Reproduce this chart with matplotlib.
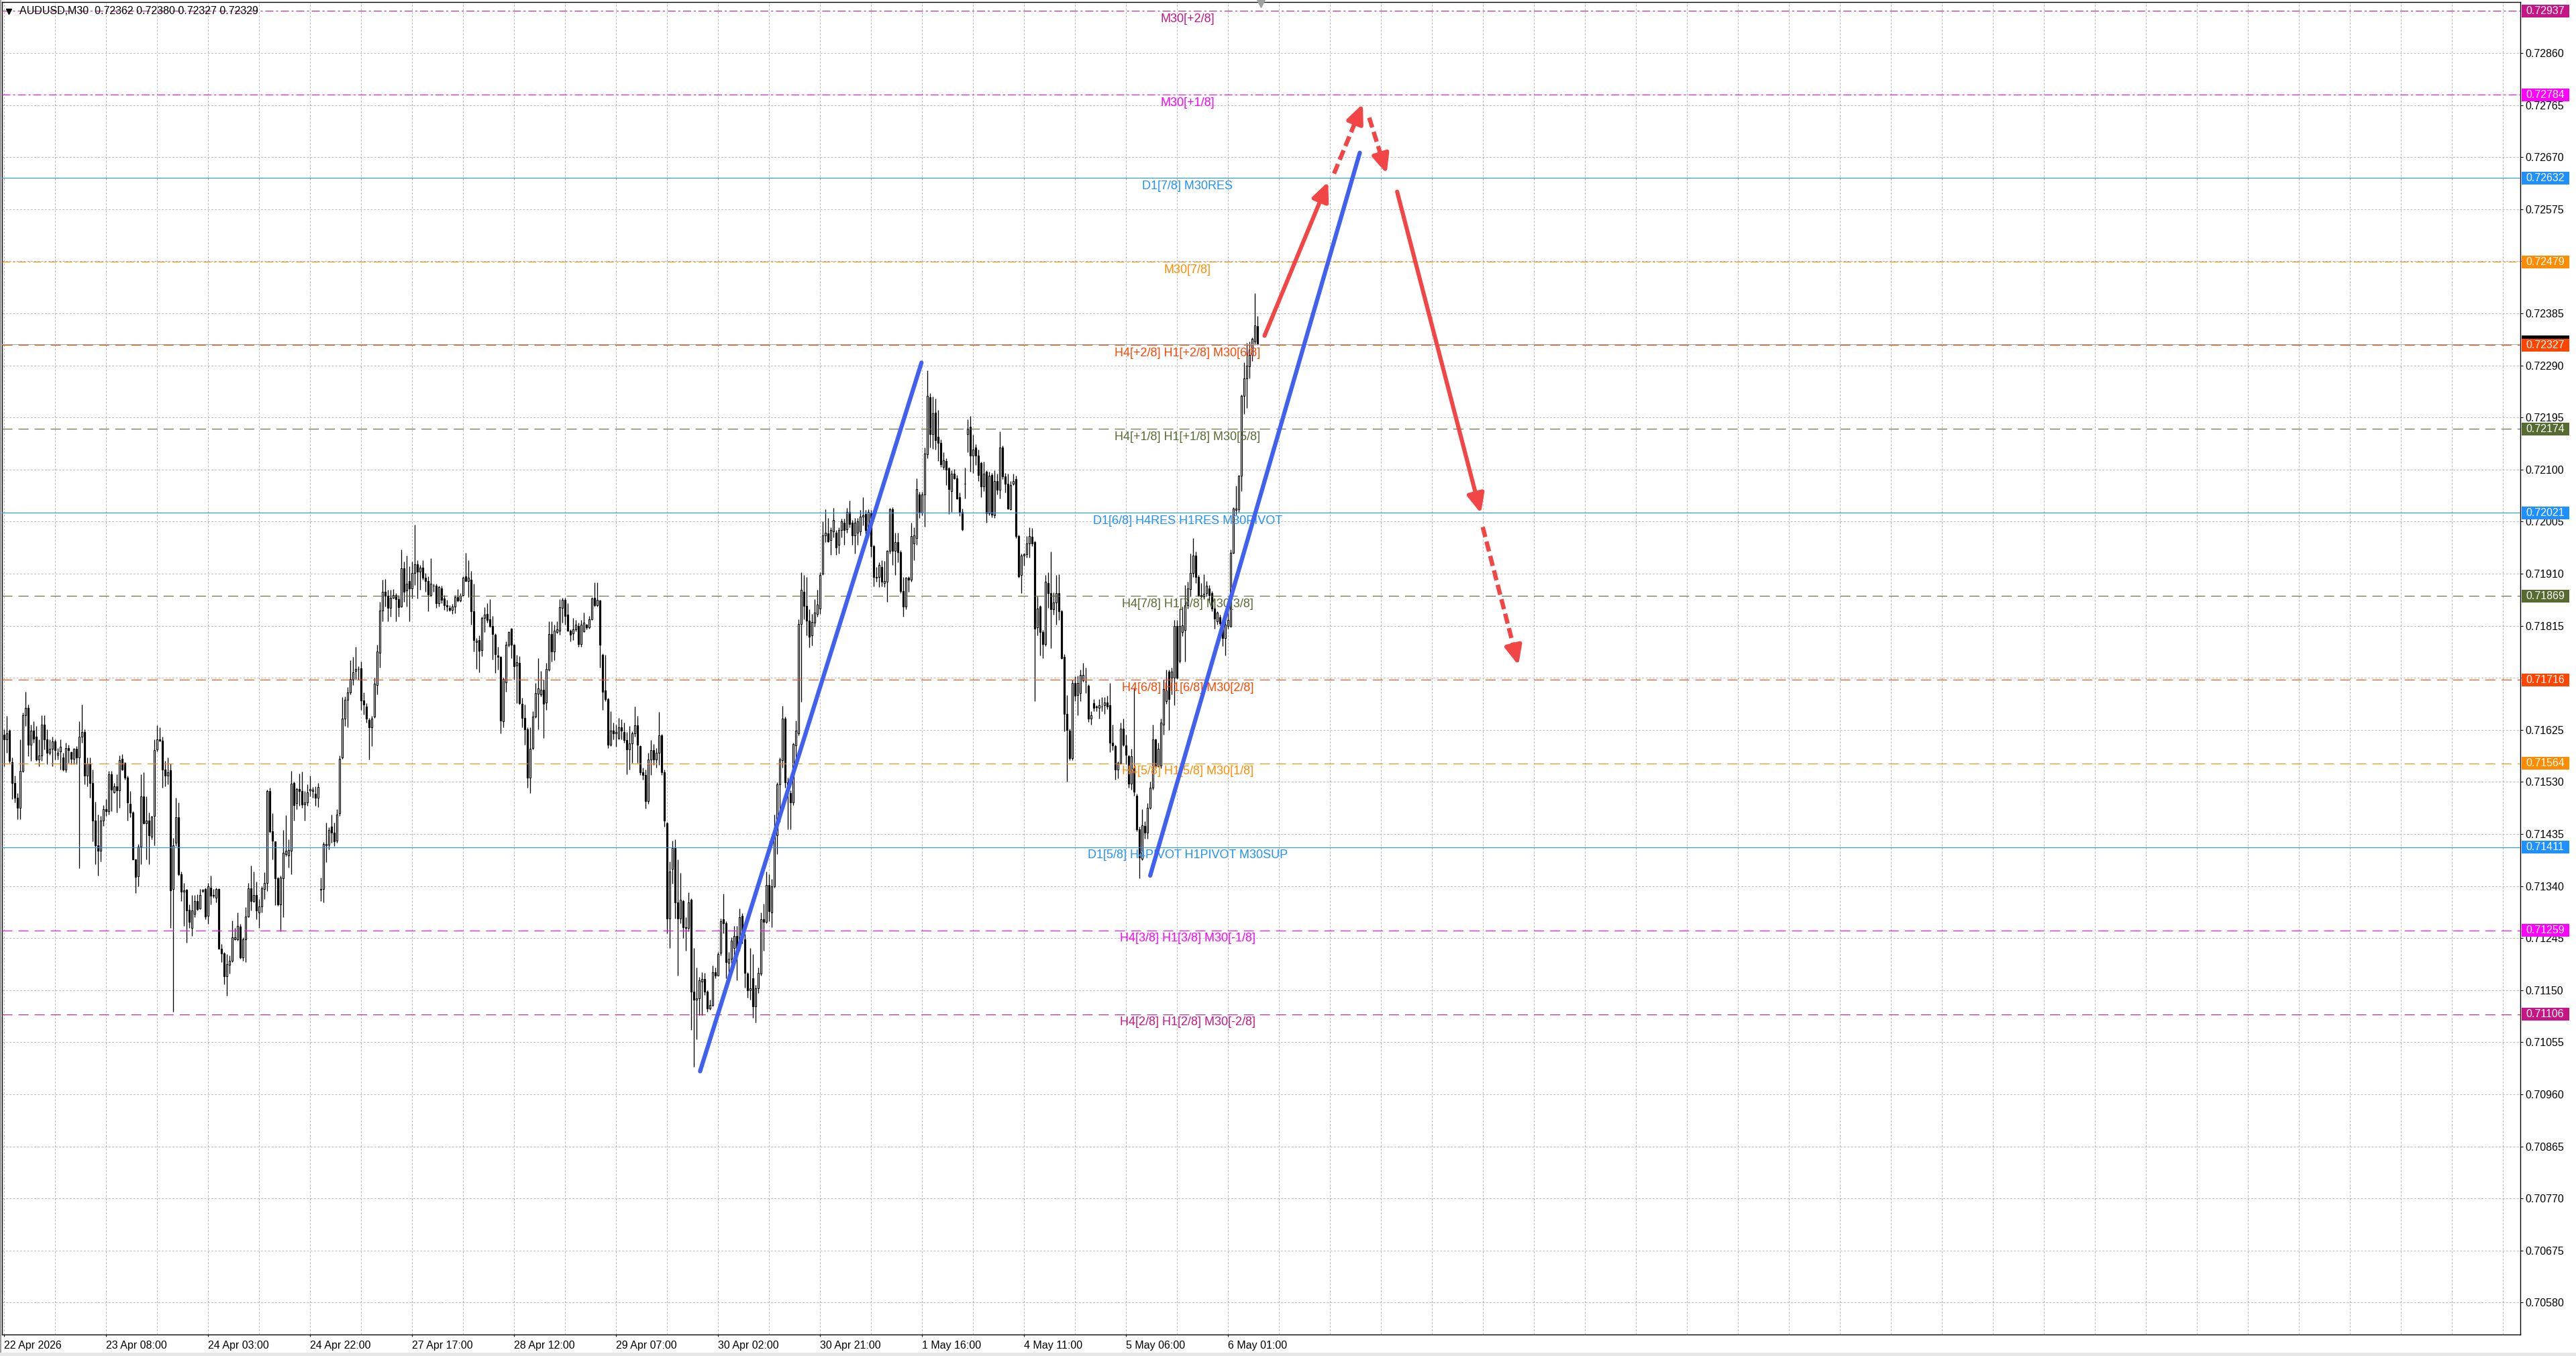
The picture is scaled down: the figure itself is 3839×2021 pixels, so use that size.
import matplotlib
matplotlib.use("Agg")
import matplotlib.pyplot as plt
from matplotlib.patches import Rectangle
from matplotlib.transforms import blended_transform_factory, offset_copy
import numpy as np

plt.rcParams['font.family'] = ['Liberation Sans', 'DejaVu Sans']
plt.rcParams['lines.scale_dashes'] = False

# AUDUSD M30 candles, prices in points above 0.70000 (1 point = 0.00001)
opens = [
    1616, 1607, 1623, 1566, 1528, 1501, 1483, 1550, 1652, 1665,
    1598, 1623, 1612, 1571, 1578, 1635, 1607, 1583, 1591, 1604,
    1580, 1585, 1574, 1553, 1592, 1584, 1572, 1590, 1574, 1612,
    1621, 1542, 1564, 1528, 1460, 1414, 1404, 1459, 1480, 1477,
    1544, 1511, 1522, 1514, 1572, 1565, 1538, 1490, 1474, 1389,
    1358, 1412, 1503, 1454, 1460, 1430, 1468, 1589, 1607, 1605,
    1553, 1541, 1551, 1334, 1419, 1465, 1362, 1330, 1333, 1296,
    1264, 1289, 1313, 1299, 1331, 1334, 1286, 1337, 1322, 1319,
    1334, 1226, 1217, 1175, 1196, 1204, 1243, 1243, 1266, 1210,
    1243, 1284, 1336, 1313, 1323, 1292, 1303, 1334, 1345, 1513,
    1440, 1421, 1354, 1307, 1354, 1398, 1396, 1404, 1528, 1491,
    1517, 1513, 1489, 1493, 1515, 1513, 1508, 1501, 1333, 1335,
    1414, 1415, 1448, 1437, 1423, 1473, 1574, 1645, 1680, 1693,
    1717, 1732, 1736, 1737, 1679, 1668, 1643, 1630, 1649, 1707,
    1766, 1843, 1877, 1869, 1847, 1866, 1871, 1863, 1850, 1920,
    1879, 1897, 1883, 1911, 1927, 1914, 1921, 1903, 1896, 1871,
    1888, 1888, 1856, 1883, 1865, 1853, 1847, 1844, 1850, 1867,
    1861, 1871, 1905, 1897, 1899, 1841, 1785, 1789, 1771, 1829,
    1837, 1827, 1815, 1798, 1761, 1758, 1641, 1712, 1780, 1809,
    1780, 1742, 1747, 1673, 1647, 1626, 1538, 1592, 1649, 1691,
    1689, 1698, 1675, 1735, 1800, 1768, 1803, 1806, 1847, 1862,
    1835, 1806, 1801, 1808, 1815, 1782, 1805, 1817, 1812, 1827,
    1866, 1853, 1861, 1762, 1697, 1681, 1598, 1623, 1618, 1610,
    1630, 1621, 1606, 1589, 1600, 1618, 1633, 1595, 1547, 1543,
    1495, 1571, 1588, 1571, 1583, 1615, 1547, 1454, 1281, 1371,
    1409, 1310, 1281, 1312, 1265, 1263, 1315, 1147, 1132, 1135,
    1166, 1171, 1147, 1117, 1123, 1183, 1177, 1218, 1279, 1272,
    1200, 1207, 1227, 1249, 1227, 1285, 1243, 1180, 1150, 1172,
    1120, 1153, 1180, 1279, 1274, 1342, 1292, 1339, 1432, 1525,
    1570, 1646, 1529, 1510, 1493, 1597, 1619, 1818, 1877, 1851,
    1824, 1797, 1821, 1836, 1846, 1910, 1980, 1983, 1971, 1987,
    1985, 1962, 1989, 2003, 1991, 2023, 2003, 1980, 1985, 1987,
    2014, 2019, 1989, 2021, 1960, 1904, 1904, 1922, 1893, 1895,
    1951, 2028, 1951, 1967, 1949, 1878, 1850, 1902, 1899, 1965,
    1975, 2055, 2021, 2055, 2128, 2232, 2165, 2204, 2160, 2149,
    2105, 2116, 2102, 2061, 2092, 2084, 2049, 2022, 2074, 2165,
    2178, 2125, 2140, 2126, 2112, 2069, 2096, 2020, 2090, 2017,
    2079, 2063, 2140, 2087, 2074, 2027, 2074, 2083, 1979, 1907,
    1943, 1945, 1965, 1977, 1968, 1812, 1850, 1804, 1781, 1893,
    1875, 1845, 1857, 1875, 1842, 1758, 1654, 1623, 1573, 1711,
    1688, 1692, 1715, 1713, 1706, 1646, 1674, 1666, 1665, 1667,
    1670, 1675, 1670, 1602, 1595, 1552, 1565, 1627, 1596, 1577,
    1527, 1555, 1505, 1444, 1390, 1450, 1438, 1483, 1519, 1608,
    1559, 1560, 1634, 1677, 1731, 1720, 1720, 1814, 1751, 1804,
    1807, 1852, 1882, 1911, 1943, 1904, 1871, 1868, 1875, 1883,
    1875, 1846, 1823, 1830, 1810, 1792, 1814, 1814, 1948, 2026,
    2027, 2089, 2234, 2266, 2288, 2309, 2334, 2362,
]
highs = [
    1626, 1650, 1626, 1574, 1541, 1510, 1607, 1656, 1695, 1671,
    1635, 1641, 1632, 1607, 1652, 1652, 1626, 1607, 1613, 1607,
    1592, 1607, 1583, 1601, 1598, 1586, 1592, 1595, 1641, 1671,
    1626, 1574, 1574, 1553, 1494, 1471, 1468, 1488, 1498, 1550,
    1550, 1528, 1544, 1578, 1581, 1566, 1541, 1513, 1476, 1390,
    1416, 1544, 1547, 1503, 1474, 1468, 1607, 1633, 1629, 1613,
    1568, 1574, 1564, 1428, 1501, 1492, 1366, 1346, 1334, 1306,
    1323, 1323, 1325, 1334, 1335, 1337, 1346, 1359, 1334, 1337,
    1336, 1234, 1219, 1216, 1213, 1277, 1264, 1292, 1271, 1246,
    1301, 1346, 1378, 1366, 1348, 1316, 1340, 1365, 1516, 1519,
    1473, 1422, 1357, 1359, 1442, 1469, 1425, 1550, 1531, 1519,
    1545, 1549, 1513, 1525, 1541, 1521, 1522, 1528, 1355, 1420,
    1456, 1447, 1471, 1456, 1480, 1578, 1685, 1686, 1703, 1752,
    1758, 1777, 1741, 1749, 1693, 1674, 1647, 1650, 1720, 1780,
    1859, 1899, 1900, 1880, 1880, 1882, 1874, 1871, 1954, 1932,
    1943, 1923, 1932, 1999, 1935, 1926, 1935, 1911, 1905, 1938,
    1891, 1891, 1888, 1888, 1871, 1862, 1853, 1855, 1871, 1882,
    1874, 1905, 1948, 1935, 1915, 1892, 1792, 1797, 1832, 1849,
    1856, 1863, 1833, 1801, 1777, 1759, 1720, 1786, 1805, 1811,
    1782, 1762, 1759, 1683, 1671, 1629, 1629, 1659, 1710, 1756,
    1732, 1717, 1747, 1823, 1823, 1817, 1823, 1863, 1866, 1866,
    1856, 1808, 1829, 1826, 1820, 1826, 1839, 1818, 1833, 1867,
    1894, 1894, 1862, 1764, 1762, 1683, 1659, 1638, 1635, 1647,
    1644, 1638, 1621, 1632, 1622, 1668, 1650, 1597, 1556, 1552,
    1583, 1606, 1599, 1592, 1658, 1617, 1552, 1457, 1385, 1423,
    1425, 1389, 1364, 1315, 1283, 1328, 1317, 1227, 1191, 1174,
    1183, 1182, 1150, 1132, 1195, 1191, 1220, 1281, 1326, 1276,
    1220, 1247, 1267, 1267, 1299, 1290, 1252, 1183, 1227, 1216,
    1159, 1191, 1292, 1308, 1367, 1362, 1353, 1470, 1529, 1574,
    1669, 1649, 1538, 1515, 1601, 1642, 1827, 1913, 1908, 1904,
    1845, 1836, 1863, 1881, 1913, 2005, 2028, 2012, 1994, 2030,
    1990, 1994, 2010, 2010, 2030, 2044, 2008, 2012, 2012, 2026,
    2050, 2026, 2028, 2026, 1962, 1922, 1931, 1935, 1933, 1953,
    2030, 2031, 1985, 1985, 1953, 1904, 1904, 1905, 2003, 1994,
    2084, 2059, 2059, 2140, 2281, 2239, 2233, 2230, 2209, 2155,
    2131, 2120, 2104, 2099, 2101, 2090, 2058, 2029, 2103, 2191,
    2198, 2163, 2146, 2137, 2115, 2115, 2099, 2096, 2094, 2099,
    2092, 2169, 2144, 2094, 2092, 2079, 2092, 2089, 1981, 1947,
    1948, 1979, 1995, 1993, 1970, 1868, 1853, 1807, 1907, 1912,
    1950, 1876, 1907, 1909, 1844, 1763, 1688, 1627, 1717, 1723,
    1724, 1735, 1747, 1738, 1708, 1659, 1681, 1670, 1681, 1685,
    1685, 1687, 1711, 1634, 1598, 1567, 1638, 1646, 1616, 1580,
    1591, 1702, 1509, 1448, 1480, 1458, 1491, 1530, 1634, 1609,
    1602, 1646, 1717, 1735, 1735, 1738, 1825, 1825, 1846, 1850,
    1889, 1895, 1947, 1975, 1950, 1907, 1893, 1909, 1896, 1889,
    1878, 1864, 1842, 1835, 1817, 1832, 1850, 1954, 2031, 2070,
    2090, 2237, 2295, 2331, 2333, 2341, 2422, 2380,
]
lows = [
    1559, 1583, 1565, 1498, 1492, 1462, 1462, 1548, 1632, 1577,
    1568, 1601, 1568, 1559, 1568, 1589, 1562, 1580, 1559, 1571,
    1571, 1553, 1550, 1547, 1565, 1562, 1562, 1562, 1372, 1601,
    1525, 1522, 1501, 1422, 1380, 1359, 1385, 1450, 1468, 1471,
    1477, 1510, 1474, 1483, 1551, 1534, 1459, 1465, 1388, 1327,
    1340, 1380, 1453, 1388, 1380, 1425, 1414, 1586, 1604, 1519,
    1522, 1525, 1264, 1110, 1413, 1359, 1313, 1267, 1237, 1264,
    1249, 1283, 1295, 1298, 1328, 1280, 1271, 1307, 1319, 1310,
    1225, 1201, 1161, 1140, 1180, 1201, 1241, 1240, 1207, 1204,
    1201, 1283, 1295, 1310, 1280, 1264, 1292, 1316, 1331, 1437,
    1389, 1305, 1304, 1258, 1283, 1395, 1374, 1362, 1459, 1480,
    1486, 1483, 1459, 1486, 1504, 1501, 1486, 1484, 1313, 1310,
    1383, 1407, 1419, 1413, 1419, 1468, 1572, 1632, 1630, 1689,
    1707, 1717, 1717, 1662, 1653, 1638, 1571, 1595, 1647, 1689,
    1738, 1823, 1850, 1823, 1832, 1865, 1823, 1832, 1849, 1859,
    1850, 1823, 1865, 1889, 1865, 1880, 1899, 1877, 1841, 1868,
    1877, 1847, 1850, 1856, 1844, 1841, 1841, 1837, 1838, 1859,
    1858, 1869, 1896, 1867, 1817, 1768, 1736, 1730, 1759, 1803,
    1820, 1812, 1753, 1729, 1735, 1619, 1629, 1695, 1777, 1756,
    1717, 1674, 1671, 1629, 1598, 1519, 1510, 1589, 1647, 1626,
    1686, 1610, 1662, 1732, 1750, 1752, 1801, 1798, 1820, 1817,
    1805, 1786, 1789, 1805, 1776, 1776, 1803, 1808, 1810, 1826,
    1850, 1850, 1738, 1662, 1677, 1592, 1595, 1607, 1594, 1607,
    1607, 1601, 1544, 1553, 1565, 1613, 1565, 1543, 1534, 1481,
    1490, 1543, 1561, 1556, 1561, 1543, 1448, 1254, 1227, 1344,
    1281, 1177, 1272, 1245, 1222, 1258, 1078, 1010, 1060, 1105,
    1105, 1141, 1111, 1114, 1120, 1172, 1177, 1213, 1254, 1172,
    1177, 1195, 1204, 1168, 1222, 1236, 1154, 1136, 1132, 1100,
    1091, 1145, 1177, 1222, 1272, 1276, 1265, 1337, 1398, 1457,
    1556, 1520, 1443, 1443, 1488, 1561, 1615, 1676, 1827, 1797,
    1775, 1779, 1813, 1831, 1836, 1908, 1967, 1967, 1944, 1976,
    1944, 1947, 1976, 1962, 1985, 1994, 1962, 1947, 1962, 1980,
    1998, 1980, 1976, 1940, 1887, 1895, 1886, 1887, 1886, 1859,
    1947, 1926, 1908, 1931, 1875, 1831, 1845, 1877, 1895, 1935,
    1962, 2012, 2017, 1996, 2120, 2140, 2138, 2137, 2116, 2104,
    2100, 2071, 2019, 2022, 2083, 2046, 2015, 1988, 2047, 2132,
    2096, 2094, 2108, 2079, 2049, 2061, 2003, 2017, 2013, 2011,
    2054, 2047, 2083, 2058, 2027, 2026, 2072, 1975, 1902, 1875,
    1925, 1939, 1939, 1960, 1677, 1797, 1760, 1756, 1778, 1847,
    1774, 1835, 1817, 1825, 1754, 1622, 1530, 1570, 1570, 1677,
    1652, 1677, 1713, 1692, 1639, 1634, 1659, 1659, 1645, 1659,
    1654, 1663, 1584, 1588, 1534, 1536, 1562, 1595, 1562, 1519,
    1516, 1505, 1440, 1354, 1387, 1426, 1426, 1480, 1516, 1555,
    1557, 1555, 1616, 1672, 1625, 1690, 1670, 1718, 1747, 1796,
    1749, 1846, 1868, 1904, 1893, 1868, 1866, 1864, 1868, 1857,
    1842, 1810, 1817, 1816, 1778, 1760, 1810, 1812, 1947, 2018,
    2022, 2061, 2201, 2212, 2266, 2298, 2327, 2327,
]
closes = [
    1607, 1619, 1568, 1528, 1501, 1483, 1550, 1652, 1665, 1598,
    1623, 1609, 1571, 1578, 1635, 1607, 1583, 1591, 1604, 1588,
    1583, 1594, 1553, 1592, 1588, 1572, 1590, 1574, 1612, 1621,
    1541, 1564, 1528, 1460, 1414, 1404, 1459, 1480, 1477, 1544,
    1516, 1522, 1514, 1570, 1553, 1538, 1492, 1474, 1389, 1357,
    1412, 1503, 1454, 1460, 1433, 1467, 1588, 1607, 1605, 1553,
    1541, 1548, 1332, 1414, 1465, 1362, 1330, 1332, 1295, 1274,
    1295, 1313, 1298, 1323, 1333, 1284, 1339, 1322, 1323, 1334,
    1226, 1217, 1175, 1198, 1204, 1246, 1247, 1267, 1210, 1243,
    1284, 1336, 1313, 1323, 1295, 1303, 1336, 1345, 1513, 1440,
    1423, 1354, 1307, 1355, 1401, 1404, 1406, 1527, 1487, 1517,
    1513, 1489, 1493, 1511, 1517, 1516, 1501, 1521, 1335, 1416,
    1417, 1442, 1437, 1422, 1471, 1572, 1645, 1680, 1693, 1718,
    1730, 1736, 1736, 1678, 1671, 1645, 1630, 1646, 1709, 1768,
    1843, 1877, 1869, 1847, 1866, 1871, 1863, 1849, 1920, 1877,
    1892, 1883, 1911, 1927, 1914, 1921, 1903, 1896, 1872, 1891,
    1888, 1856, 1885, 1862, 1853, 1850, 1844, 1850, 1867, 1861,
    1870, 1903, 1897, 1902, 1841, 1789, 1788, 1769, 1829, 1835,
    1826, 1814, 1800, 1763, 1758, 1642, 1718, 1780, 1803, 1780,
    1741, 1748, 1674, 1647, 1626, 1538, 1590, 1649, 1692, 1701,
    1698, 1673, 1736, 1800, 1768, 1806, 1808, 1849, 1862, 1833,
    1806, 1798, 1808, 1817, 1781, 1817, 1821, 1812, 1827, 1865,
    1853, 1862, 1780, 1695, 1681, 1598, 1623, 1618, 1621, 1630,
    1623, 1606, 1589, 1600, 1618, 1633, 1598, 1547, 1543, 1495,
    1571, 1588, 1571, 1583, 1615, 1547, 1459, 1281, 1367, 1409,
    1310, 1281, 1315, 1265, 1263, 1310, 1147, 1132, 1135, 1168,
    1171, 1147, 1117, 1123, 1183, 1177, 1216, 1276, 1272, 1201,
    1207, 1240, 1249, 1227, 1283, 1245, 1182, 1150, 1153, 1120,
    1153, 1182, 1279, 1274, 1342, 1294, 1339, 1434, 1525, 1571,
    1646, 1529, 1515, 1493, 1599, 1624, 1818, 1881, 1851, 1824,
    1795, 1822, 1839, 1854, 1908, 1980, 1985, 1969, 1989, 2008,
    1958, 1989, 2005, 1989, 2023, 2001, 1980, 2003, 2005, 2014,
    2017, 1989, 2023, 1960, 1904, 1902, 1926, 1895, 1896, 1951,
    2028, 1951, 1967, 1949, 1878, 1850, 1902, 1899, 1978, 1980,
    2064, 2021, 2055, 2129, 2234, 2165, 2202, 2153, 2149, 2110,
    2117, 2100, 2064, 2092, 2084, 2047, 2022, 1991, 2074, 2174,
    2125, 2137, 2126, 2090, 2069, 2092, 2020, 2089, 2018, 2079,
    2063, 2140, 2087, 2074, 2029, 2072, 2079, 1979, 1905, 1943,
    1945, 1965, 1979, 1965, 1810, 1846, 1803, 1781, 1895, 1875,
    1845, 1857, 1875, 1842, 1756, 1654, 1625, 1573, 1711, 1687,
    1711, 1725, 1725, 1713, 1646, 1652, 1665, 1667, 1670, 1667,
    1675, 1667, 1602, 1596, 1552, 1565, 1627, 1598, 1580, 1527,
    1577, 1512, 1444, 1392, 1451, 1437, 1483, 1519, 1608, 1559,
    1591, 1638, 1699, 1697, 1681, 1731, 1814, 1720, 1814, 1816,
    1853, 1883, 1911, 1943, 1904, 1871, 1868, 1873, 1888, 1871,
    1846, 1828, 1839, 1819, 1792, 1817, 1825, 1948, 2029, 2029,
    2089, 2234, 2266, 2290, 2309, 2338, 2363, 2329,
]

# time axis labels (every 38 bars)
time_label_bars = [0, 38, 76, 114, 152, 190, 228, 266, 304, 342, 380, 418, 456]
time_labels = ["22 Apr 2026", "23 Apr 08:00", "24 Apr 03:00", "24 Apr 22:00",
               "27 Apr 17:00", "28 Apr 12:00", "29 Apr 07:00", "30 Apr 02:00",
               "30 Apr 21:00", "1 May 16:00", "4 May 11:00", "5 May 06:00",
               "6 May 01:00"]

price_ticks = [0.70580, 0.70675, 0.70770, 0.70865, 0.70960, 0.71055, 0.71150,
               0.71245, 0.71340, 0.71435, 0.71530, 0.71625, 0.71720, 0.71815,
               0.71910, 0.72005, 0.72100, 0.72195, 0.72290, 0.72385, 0.72480,
               0.72575, 0.72670, 0.72765, 0.72860]

# Murrey math levels
level_prices = [0.72937, 0.72784, 0.72632, 0.72479, 0.72327, 0.72174, 0.72021,
                0.71869, 0.71716, 0.71564, 0.71411, 0.71259, 0.71106]
level_colors = ['#C71585', '#FF00FF', '#1E90FF', '#FF8C00', '#FF4500', '#556B2F',
                '#1E90FF', '#556B2F', '#FF4500', '#FF8C00', '#1E90FF', '#FF00FF',
                '#C71585']
level_styles = ['dashdot', 'dashdot', 'solid', 'dashdot', 'dash', 'dash', 'solid',
                'dash', 'dash', 'dash', 'solid', 'dash', 'dash']
level_texts = ['M30[+2/8]', 'M30[+1/8]', 'D1[7/8] M30RES', 'M30[7/8]',
               'H4[+2/8] H1[+2/8] M30[6/8]', 'H4[+1/8] H1[+1/8] M30[5/8]',
               'D1[6/8] H4RES H1RES M30PIVOT', 'H4[7/8] H1[7/8] M30[3/8]',
               'H4[6/8] H1[6/8] M30[2/8]', 'H4[5/8] H1[5/8] M30[1/8]',
               'D1[5/8] H4PIVOT H1PIVOT M30SUP', 'H4[3/8] H1[3/8] M30[-1/8]',
               'H4[2/8] H1[2/8] M30[-2/8]']
level_text_bar = 441
bid_price = 0.72329

# hand-drawn trend lines and arrows (bar index, price)
blue_lines = [((259.4, 0.71002), (341.9, 0.72295)),
              ((427.1, 0.71359), (505.2, 0.72678))]
arrow_starts = [(469.7, 0.72344), (495.6, 0.72640), (508.7, 0.72742),
                (519.1, 0.72607), (551.0, 0.71995)]
arrow_ends = [(493.4, 0.72625), (506.3, 0.72767), (515.2, 0.72640),
              (550.3, 0.72020), (564.3, 0.71743)]
arrow_dashed = [False, True, True, False, True]

header = "AUDUSD,M30  0.72362 0.72380 0.72327 0.72329"

n = len(closes)
assert len(opens) == n and len(highs) == n and len(lows) == n

base = 0.70
O = base + np.array(opens) / 1e5
C = base + np.array(closes) / 1e5
Hh = np.maximum(base + np.array(highs) / 1e5, np.maximum(O, C))
Ll = np.minimum(base + np.array(lows) / 1e5, np.minimum(O, C))
x = np.arange(n)

W, H = 3839, 2021
fig = plt.figure(figsize=(W / 100, H / 100), dpi=100)
fig.patch.set_facecolor('white')
ax_left, ax_top, ax_right, ax_bot = 3, 3, 3756, 1989.3
ax = fig.add_axes([ax_left / W, 1 - ax_bot / H, (ax_right - ax_left) / W, (ax_bot - ax_top) / H])
ax.set_facecolor('white')
ymin, ymax = 0.705213, 0.72953
xmin, xmax = -0.675, 937.575
ax.set_xlim(xmin, xmax)
ax.set_ylim(ymin, ymax)
px_per_unit = (ax_bot - ax_top) / (ymax - ymin)
ax_w_px = ax_right - ax_left
px_per_bar = ax_w_px / (xmax - xmin)

for s in ax.spines.values():
    s.set_color('black')
    s.set_linewidth(1.0)

# grid
grid_kw = dict(color='#bdbdbd', linewidth=0.72, linestyle=(0, (2.2, 1.6)), zorder=1)
for gx in range(0, 938, 19):
    ax.axvline(gx, **grid_kw)
for gy in price_ticks:
    ax.axhline(gy, **grid_kw)

# ticks
ax.yaxis.tick_right()
ax.set_yticks(price_ticks)
ax.set_yticklabels([f"{p:.5f}" for p in price_ticks])
ax.tick_params(axis='y', length=3, width=0.8, pad=2.5, labelsize=11.5, right=True, left=False)
ax.set_xticks(time_label_bars)
ax.set_xticklabels(time_labels, ha='left')
ax.tick_params(axis='x', length=2, width=0.8, pad=4, labelsize=11.5, bottom=True, top=False)

# candles
ax.vlines(x, Ll, Hh, colors='black', linewidth=0.95, zorder=3)
up = C >= O
ax.bar(x[up], (C - O)[up], bottom=O[up], width=0.6, facecolor='white',
       edgecolor='black', linewidth=0.85, zorder=4)
ax.bar(x[~up], (O - C)[~up], bottom=C[~up], width=0.6, facecolor='black',
       edgecolor='black', linewidth=0.85, zorder=4)

# levels
dash_map = {'solid': '-', 'dash': (0, (10.8, 6.5)), 'dashdot': (0, (8.6, 2.9, 2.2, 2.9))}
ax.axhline(bid_price, color='#a8a8a8', linewidth=0.7, zorder=4.5)
text_trans = offset_copy(ax.transData, fig=fig, x=0, y=-2.6, units='points')
for p, c, st, t in zip(level_prices, level_colors, level_styles, level_texts):
    ax.axhline(p, color=c, linewidth=0.8, linestyle=dash_map[st], zorder=5)
    ax.text(level_text_bar, p, t, transform=text_trans, ha='center', va='top',
            color=c, fontsize=13, zorder=6)

# right-side price boxes
btrans = blended_transform_factory(ax.transAxes, ax.transData)
box_x0 = (3758.3 - ax_left) / ax_w_px
box_w = 70.7 / ax_w_px
txt_x = (3764 - ax_left) / ax_w_px
box_h = 19 / px_per_unit
ax.add_patch(Rectangle((box_x0, bid_price - box_h / 2 + 3 / px_per_unit), box_w, box_h,
                       transform=btrans, facecolor='black', edgecolor='none',
                       clip_on=False, zorder=9))
for p, c in zip(level_prices, level_colors):
    ax.add_patch(Rectangle((box_x0, p - box_h / 2), box_w, box_h, transform=btrans,
                           facecolor=c, edgecolor='none', clip_on=False, zorder=10))
    ax.text(txt_x, p, f"{p:.5f}", transform=btrans, color='white', ha='left',
            va='center', fontsize=11.5, zorder=11, clip_on=False)

# trend lines
for (x0, y0), (x1, y1) in blue_lines:
    ax.plot([x0, x1], [y0, y1], color='#4060F0', linewidth=4.5,
            solid_capstyle='round', zorder=7)

# forecast arrows: dashed shafts drawn as lines, heads as short solid arrows
red = '#F24545'
head = dict(arrowstyle='-|>,head_length=0.85,head_width=0.38', color=red, lw=4.4,
            shrinkA=0, shrinkB=0, mutation_scale=20)
for (x0, y0), (x1, y1), dashed in zip(arrow_starts, arrow_ends, arrow_dashed):
    if dashed:
        length_px = np.hypot((x1 - x0) * px_per_bar, (y1 - y0) * px_per_unit)
        f = 1 - 22 / length_px
        xm, ym = x0 + (x1 - x0) * f, y0 + (y1 - y0) * f
        ax.plot([x0, xm], [y0, ym], color=red, linewidth=4.6,
                linestyle=(0, (11, 5)), dash_capstyle='butt', zorder=8)
        ax.annotate('', xy=(x1, y1), xytext=(xm, ym), arrowprops=dict(head), zorder=8)
    else:
        ax.annotate('', xy=(x1, y1), xytext=(x0, y0),
                    arrowprops=dict(head, capstyle='round'), zorder=8)

# header
hy = 1 - (16.7 - ax_top) / (ax_bot - ax_top)
ax.text((29 - ax_left) / ax_w_px, hy, header, transform=ax.transAxes, ha='left',
        va='center', fontsize=11.5, color='black', zorder=12)
ax.plot([(13 - ax_left) / ax_w_px], [hy], marker='v', markersize=6, color='black',
        transform=ax.transAxes, clip_on=False, zorder=12)
ax.plot([(1879 - ax_left) / ax_w_px], [0.999], marker='v', markersize=9,
        color='#a0a0a0', transform=ax.transAxes, clip_on=False, zorder=12)

# window edges
fig.patches.append(Rectangle((0, 0), 2 / W, 1, transform=fig.transFigure,
                             facecolor='#a0a0a0', edgecolor='none'))
fig.patches.append(Rectangle((0, 0), 1, 5 / H, transform=fig.transFigure,
                             facecolor='#e6e6e6', edgecolor='none'))

fig.savefig('out.png', dpi=100)
